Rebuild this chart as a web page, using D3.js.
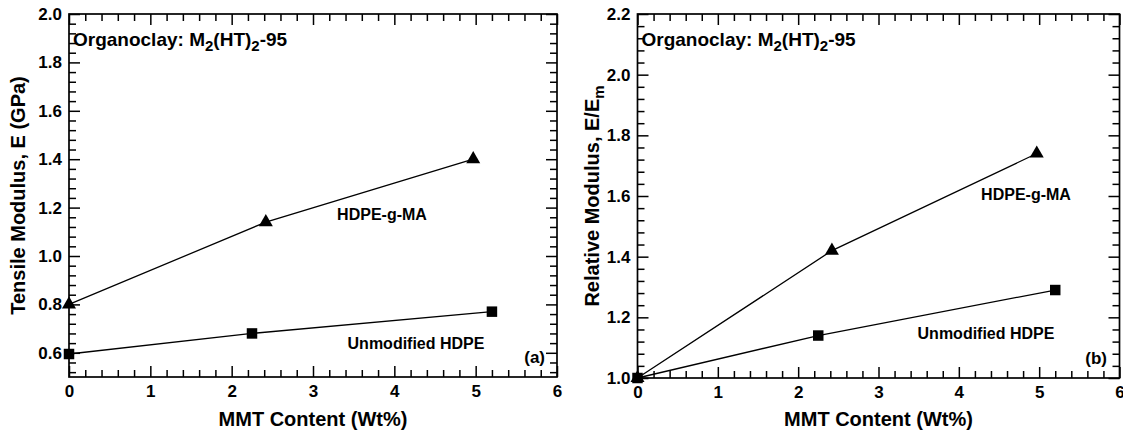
<!DOCTYPE html>
<html>
<head>
<meta charset="utf-8">
<script src="https://cdn.jsdelivr.net/npm/d3@7"></script>
<style>
  body { margin: 0; background: #fff; }
  svg { display: block; font-family: "Liberation Sans", Arial, Helvetica, sans-serif; font-weight: bold; }
</style>
</head>
<body>
<svg id="chart" width="1123" height="439"></svg>
<script>
// ---- data ----
const mmtGrafted = [0, 2.42, 4.97];
const mmtUnmod = [0, 2.25, 5.2];
const tensileGrafted = [0.80, 1.14, 1.40];   // GPa
const tensileUnmod = [0.595, 0.68, 0.77];
const relGrafted = [1.0, 1.42, 1.74];        // E/Em
const relUnmod = [1.0, 1.14, 1.29];

const xTicks = [0, 1, 2, 3, 4, 5, 6];
const yTicksA = [0.6, 0.8, 1.0, 1.2, 1.4, 1.6, 1.8, 2.0];
const yTicksB = [1.0, 1.2, 1.4, 1.6, 1.8, 2.0, 2.2];

const svg = d3.select('#chart');

// minor tick positions at a fixed step, aligned on a base value
function minorTicks(domain, base, step, every) {
  const lo = Math.ceil((domain[0] - base) / step - 1e-6);
  const hi = Math.floor((domain[1] - base) / step + 1e-6);
  return d3.range(lo, hi + 1).filter(i => i % every !== 0).map(i => base + i * step);
}

function drawPanel(p) {
  const g = svg.append('g').attr('transform', `translate(${p.left},${p.top})`);
  const x = d3.scaleLinear().domain([0, 6]).range([0, p.width]);
  const y = d3.scaleLinear().domain(p.yDomain).range([p.height, 0]);

  const xMinor = minorTicks([0, 6], 0, 0.2, 5);
  const yMinor = minorTicks(p.yDomain, p.yTicks[0], 0.04, 5);
  const MAJ = -11, MIN = -7;

  const clean = sel => {
    sel.select('.domain').remove();
    sel.attr('font-family', null).attr('font-size', 17);
    sel.selectAll('line').attr('stroke-width', 1.5);
  };

  // bottom
  g.append('g').attr('transform', `translate(0,${p.height})`)
    .call(d3.axisBottom(x).tickValues(xTicks).tickFormat(d3.format('d'))
      .tickSizeInner(MAJ).tickSizeOuter(0).tickPadding(8)).call(clean);
  g.append('g').attr('transform', `translate(0,${p.height})`)
    .call(d3.axisBottom(x).tickValues(xMinor).tickFormat('')
      .tickSizeInner(MIN).tickSizeOuter(0)).call(clean);
  // top
  g.append('g')
    .call(d3.axisTop(x).tickValues(xTicks).tickFormat('').tickSizeInner(MAJ).tickSizeOuter(0)).call(clean);
  g.append('g')
    .call(d3.axisTop(x).tickValues(xMinor).tickFormat('').tickSizeInner(MIN).tickSizeOuter(0)).call(clean);
  // left
  g.append('g')
    .call(d3.axisLeft(y).tickValues(p.yTicks).tickFormat(d3.format('.1f'))
      .tickSizeInner(MAJ).tickSizeOuter(0).tickPadding(7)).call(clean);
  g.append('g')
    .call(d3.axisLeft(y).tickValues(yMinor).tickFormat('').tickSizeInner(MIN).tickSizeOuter(0)).call(clean);
  // right
  g.append('g').attr('transform', `translate(${p.width},0)`)
    .call(d3.axisRight(y).tickValues(p.yTicks).tickFormat('').tickSizeInner(MAJ).tickSizeOuter(0)).call(clean);
  g.append('g').attr('transform', `translate(${p.width},0)`)
    .call(d3.axisRight(y).tickValues(yMinor).tickFormat('').tickSizeInner(MIN).tickSizeOuter(0)).call(clean);

  g.append('rect')
    .attr('width', p.width).attr('height', p.height)
    .attr('fill', 'none').attr('stroke', '#000').attr('stroke-width', 1.7);

  // series
  const line = d3.line().x(d => x(d[0])).y(d => y(d[1]));
  p.series.forEach(s => {
    const pts = s.xs.map((v, i) => [v, s.ys[i]]);
    g.append('path').datum(pts)
      .attr('d', line).attr('fill', 'none').attr('stroke', '#000').attr('stroke-width', 1.3);
    g.selectAll(null).data(pts).enter().append('path')
      .attr('transform', d => `translate(${x(d[0])},${y(d[1])})`)
      .attr('d', d3.symbol().type(s.symbol).size(s.size))
      .attr('fill', '#000');
  });

  // series labels
  p.labels.forEach(l => {
    g.append('text')
      .attr('x', l.x - p.left).attr('y', l.y - p.top)
      .attr('text-anchor', l.anchor || 'middle')
      .attr('font-size', l.size || 16)
      .text(l.text);
  });

  // organoclay note
  const note = g.append('text').attr('x', 4).attr('y', 31.5).attr('font-size', 19);
  note.append('tspan').text('Organoclay: M');
  note.append('tspan').attr('dy', 5).attr('font-size', 15).text('2');
  note.append('tspan').attr('dy', -5).text('(HT)');
  note.append('tspan').attr('dy', 5).attr('font-size', 15).text('2');
  note.append('tspan').attr('dy', -5).text('-95');

  // axis titles
  g.append('text')
    .attr('x', p.width / 2).attr('y', 412)
    .attr('text-anchor', 'middle').attr('font-size', 20)
    .text('MMT Content (Wt%)');

  const yt = g.append('text')
    .attr('transform', `translate(${p.yTitleX - p.left},${p.height / 2}) rotate(-90)`)
    .attr('text-anchor', 'middle').attr('font-size', 20);
  yt.append('tspan').text(p.yTitle);
  if (p.yTitleSub) {
    yt.append('tspan').attr('dy', 5).attr('font-size', 15).text(p.yTitleSub);
  }
}

drawPanel({
  left: 69, top: 14, width: 488, height: 363,
  yDomain: [0.5, 2.0], yTicks: yTicksA,
  yTitle: 'Tensile Modulus, E (GPa)', yTitleX: 25,
  series: [
    { xs: mmtGrafted, ys: tensileGrafted, symbol: d3.symbolTriangle, size: 85 },
    { xs: mmtUnmod, ys: tensileUnmod, symbol: d3.symbolSquare, size: 110 }
  ],
  labels: [
    { text: 'HDPE-g-MA', x: 382, y: 220 },
    { text: 'Unmodified HDPE', x: 416, y: 349 },
    { text: '(a)', x: 545, y: 363, anchor: 'end', size: 17 }
  ]
});

drawPanel({
  left: 637.5, top: 14, width: 482, height: 364,
  yDomain: [1.0, 2.2], yTicks: yTicksB,
  yTitle: 'Relative Modulus, E/E', yTitleSub: 'm', yTitleX: 599,
  series: [
    { xs: mmtGrafted, ys: relGrafted, symbol: d3.symbolTriangle, size: 85 },
    { xs: mmtUnmod, ys: relUnmod, symbol: d3.symbolSquare, size: 110 }
  ],
  labels: [
    { text: 'HDPE-g-MA', x: 1026, y: 200 },
    { text: 'Unmodified HDPE', x: 986, y: 339 },
    { text: '(b)', x: 1107, y: 364, anchor: 'end', size: 17 }
  ]
});
</script>
</body>
</html>
